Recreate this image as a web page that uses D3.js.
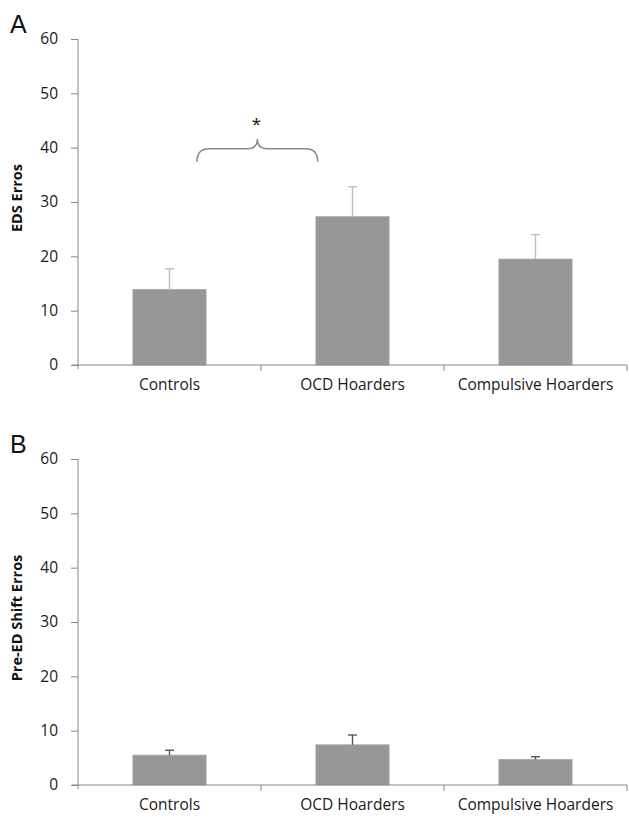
<!DOCTYPE html>
<html>
<head>
<meta charset="utf-8">
<script src="https://cdn.jsdelivr.net/npm/d3@7"></script>
<style>
  body { margin: 0; background: #fff; }
  svg { display: block; font-family: "Open Sans", sans-serif; }
</style>
</head>
<body>
<svg id="chart"></svg>
<script>
// data
const groups = ["Controls", "OCD Hoarders", "Compulsive Hoarders"];
const edsMeans = [13.9, 27.3, 19.5];
const edsErr = [3.8, 5.5, 4.5];
const preMeans = [5.5, 7.4, 4.7];
const preErr = [0.9, 1.8, 0.5];
const yTicks = [0, 10, 20, 30, 40, 50, 60];

const width = 629, height = 818;
const axisColor = "#868686";
const barColor = "#979797";

const svg = d3.select("#chart").attr("width", width).attr("height", height);

function drawPanel(top, letter, title, means, errs, errColor, showBrace) {
  const margin = { left: 78, right: 2 };
  const plotH = 326;
  const g = svg.append("g").attr("transform", `translate(0,${top})`);

  const x = d3.scaleBand().domain(groups).range([margin.left, width - margin.right]).padding(0);
  const y = d3.scaleLinear().domain([0, 60]).range([plotH, 0]);
  const barW = x.bandwidth() * 0.4;

  // bars
  g.append("g").selectAll("rect")
    .data(groups)
    .enter()
    .append("rect")
    .attr("x", d => x(d) + x.bandwidth() / 2 - barW / 2)
    .attr("y", (d, i) => y(means[i]))
    .attr("width", barW)
    .attr("height", (d, i) => y(0) - y(means[i]))
    .attr("fill", barColor)
    .attr("stroke", "#a9a9a9")
    .attr("stroke-width", 0.8);

  // error bars (upper only)
  const eb = g.append("g").attr("stroke", errColor).attr("stroke-width", 1.4);
  groups.forEach((d, i) => {
    const cx = x(d) + x.bandwidth() / 2;
    eb.append("line").attr("x1", cx).attr("x2", cx)
      .attr("y1", y(means[i])).attr("y2", y(means[i] + errs[i]));
    eb.append("line").attr("x1", cx - 4.5).attr("x2", cx + 4.5)
      .attr("y1", y(means[i] + errs[i])).attr("y2", y(means[i] + errs[i]));
  });

  // y axis
  const yAxis = g.append("g")
    .attr("transform", `translate(${margin.left},0)`)
    .call(d3.axisLeft(y).tickValues(yTicks).tickSize(7).tickPadding(13).tickSizeOuter(0));
  yAxis.select(".domain").attr("stroke", axisColor).attr("d", `M0,0V${plotH + 4}`);
  yAxis.selectAll(".tick line").attr("stroke", axisColor);
  yAxis.selectAll(".tick text").attr("font-size", 15.5).attr("fill", "#1a1a1a")
    .attr("font-family", "Open Sans, sans-serif");

  // x axis
  const xAxis = g.append("g")
    .attr("transform", `translate(0,${plotH})`)
    .call(d3.axisBottom(x).tickSize(0).tickPadding(14).tickSizeOuter(0));
  xAxis.select(".domain").attr("stroke", axisColor).attr("d", `M${margin.left - 6},0H${width - margin.right}`);
  xAxis.selectAll(".tick text").attr("font-size", 15.5).attr("fill", "#1a1a1a")
    .attr("font-family", "Open Sans, sans-serif");
  g.append("g").selectAll("line")
    .data(groups)
    .enter()
    .append("line")
    .attr("x1", d => x(d) + x.bandwidth()).attr("x2", d => x(d) + x.bandwidth())
    .attr("y1", plotH).attr("y2", plotH + 6)
    .attr("stroke", axisColor);

  // y title
  g.append("text")
    .attr("transform", `translate(22,${plotH / 2 - 4}) rotate(-90)`)
    .attr("text-anchor", "middle")
    .attr("font-size", 14.5)
    .attr("font-weight", "bold")
    .attr("fill", "#111")
    .text(title);

  // panel letter
  svg.append("text")
    .attr("x", 10).attr("y", top - 6)
    .attr("font-family", "Liberation Sans, Arial, sans-serif")
    .attr("font-size", 25)
    .attr("fill", "#111")
    .text(letter);

  if (showBrace) {
    const x0 = x(groups[0]) + x.bandwidth() * 0.65;
    const x1 = x(groups[1]) + x.bandwidth() * 0.31;
    const xm = (x0 + x1) / 2;
    const yEnd = y(37.4), yBar = y(39.8), yTip = y(41.6);
    const p = d3.path();
    p.moveTo(x0, yEnd);
    p.quadraticCurveTo(x0, yBar, x0 + 12, yBar);
    p.lineTo(xm - 10, yBar);
    p.quadraticCurveTo(xm, yBar, xm, yTip);
    p.quadraticCurveTo(xm, yBar, xm + 10, yBar);
    p.lineTo(x1 - 12, yBar);
    p.quadraticCurveTo(x1, yBar, x1, yEnd);
    g.append("path").attr("d", p.toString())
      .attr("fill", "none").attr("stroke", "#8a8a8a").attr("stroke-width", 1.5);
    g.append("text")
      .attr("x", xm - 1).attr("y", y(43.2))
      .attr("text-anchor", "middle")
      .attr("font-size", 17)
      .attr("fill", "#111")
      .text("*");
  }
}

drawPanel(39, "A", "EDS Erros", edsMeans, edsErr, "#bdbdbd", true);
drawPanel(459, "B", "Pre-ED Shift Erros", preMeans, preErr, "#555", false);
</script>
</body>
</html>
